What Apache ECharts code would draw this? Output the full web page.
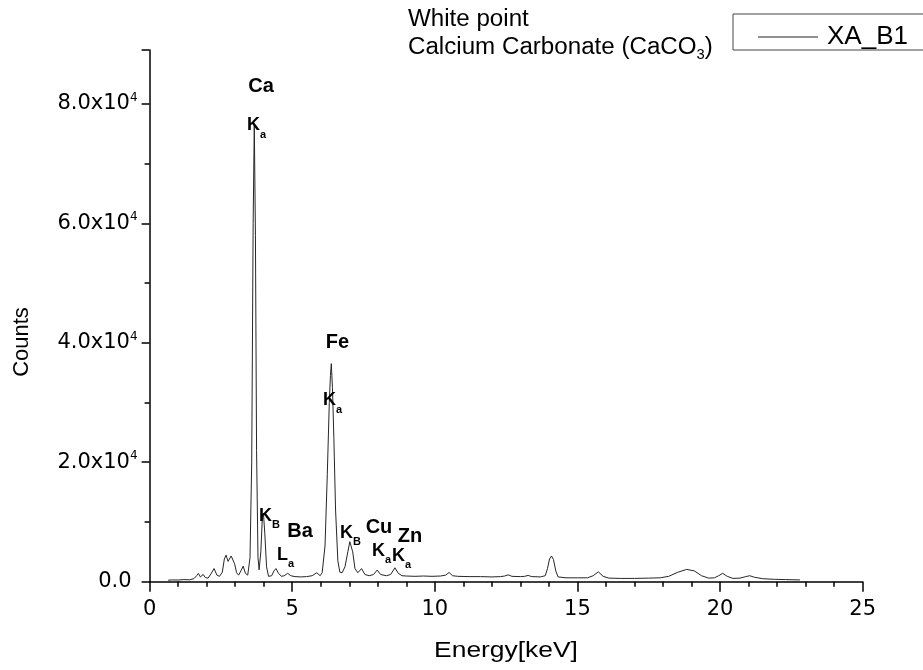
<!DOCTYPE html>
<html>
<head>
<meta charset="utf-8">
<script src="https://cdn.jsdelivr.net/npm/echarts@6/dist/echarts.min.js"></script>
<style>
html, body { margin: 0; padding: 0; background: #fff; }
#chart { width: 923px; height: 670px; }
</style>
</head>
<body>
<div id="chart"></div>
<script>
// XRF spectrum of sample XA_B1 (energy in keV, counts)
const energy = [
  0.65, 0.8, 1.0, 1.2, 1.4, 1.55, 1.65, 1.71, 1.78, 1.88, 1.95, 2.05, 2.15, 2.26, 2.36,
  2.45, 2.55, 2.62, 2.68, 2.75, 2.8, 2.86, 2.91, 2.98, 3.05, 3.12, 3.2, 3.28, 3.36, 3.44,
  3.52, 3.58, 3.63, 3.67, 3.71, 3.75, 3.8, 3.84, 3.9, 3.95, 3.99, 4.04, 4.1, 4.17, 4.28,
  4.36, 4.43, 4.52, 4.62, 4.72, 4.84, 4.95, 5.1, 5.3, 5.5, 5.7, 5.86, 5.98, 6.05, 6.15,
  6.23, 6.3, 6.34, 6.37, 6.41, 6.46, 6.52, 6.6, 6.67, 6.75, 6.85, 6.95, 7.02, 7.06, 7.12,
  7.2, 7.3, 7.43, 7.55, 7.7, 7.85, 7.98, 8.1, 8.3, 8.45, 8.6, 8.72, 8.85, 9.0, 9.3,
  9.6, 9.9, 10.2, 10.38, 10.5, 10.62, 10.8, 11.2, 11.6, 12.0, 12.3, 12.45, 12.57, 12.7, 13.0,
  13.15, 13.27, 13.4, 13.7, 13.87, 13.95, 14.02, 14.09, 14.16, 14.24, 14.32, 14.6, 15.0, 15.35, 15.55,
  15.73, 15.9, 16.1, 16.5, 17.0, 17.5, 17.9, 18.2, 18.5, 18.83, 19.1, 19.35, 19.6, 19.8, 19.95,
  20.09, 20.25, 20.45, 20.7, 20.9, 21.04, 21.2, 21.5, 21.9, 22.3, 22.8
];
const counts = [
  250, 300, 280, 350, 320, 500, 1000, 1400, 800, 1200, 700, 600, 1300, 2200, 1100,
  900, 1600, 3800, 4450, 3400, 3300, 4300, 4600, 3000, 1500, 1100, 1800, 2600, 1400, 1100,
  4000, 20000, 60000, 76500, 58000, 22000, 4000, 2000, 5000, 10500, 11500, 8000, 2500, 900, 1000,
  1800, 2200, 1400, 900, 1000, 1400, 1000, 850, 800, 850, 1000, 1500, 1000, 1500, 6000,
  18000, 30000, 34500, 36500, 32500, 24000, 12000, 3500, 1600, 1500, 2500, 5000, 6700, 6950, 5000,
  2200, 1500, 2200, 1200, 1000, 1200, 1950, 1200, 1000, 1200, 2330, 1400, 1000, 950, 900,
  950, 900, 950, 1100, 1550, 1000, 900, 850, 850, 800, 850, 950, 1150, 900, 850,
  900, 1050, 850, 800, 1000, 2200, 3800, 4300, 3700, 1800, 800, 650, 650, 650, 1000,
  1650, 900, 600, 550, 550, 600, 650, 900, 1550, 2060, 1800, 1000, 600, 650, 1000,
  1400, 900, 550, 600, 850, 1000, 750, 500, 400, 350, 300
];

const seriesName = 'XA_B1';
const xTicks = [0, 5, 10, 15, 20, 25];
const yTicks = [0, 20000, 40000, 60000, 80000];
const yTickMantissa = ['0.0', '2.0', '4.0', '6.0', '8.0'];

// element names and line labels, anchored in (keV, counts)
const elementNames = ['Ca', 'Ba', 'Fe', 'Cu', 'Zn'];
const elementAnchors = [[3.905, 82950], [5.272, 8450], [6.586, 40030], [8.041, 9030], [9.127, 7530]];
const lineNames = ['K', 'K', 'L', 'K', 'K', 'K', 'K'];
const lineSubs = ['a', 'B', 'a', 'a', 'B', 'a', 'a'];
const lineAnchors = [[3.414, 76370], [3.835, 11030], [4.465, 4530], [6.078, 30370], [6.674, 8200], [7.795, 5200], [8.496, 4370]];

const spectrum = energy.map((e, i) => [e, counts[i]]);
const chart = echarts.init(document.getElementById('chart'), null, { renderer: 'canvas' });
const FONT = 'Arial, "Liberation Sans", sans-serif';
const WIDE = '"DejaVu Sans", Arial, sans-serif';

function yLabel(v) {
  const k = yTicks.indexOf(v);
  if (k < 0) return '';
  if (v === 0) return '{z|' + yTickMantissa[k] + '}';
  return '{m|' + yTickMantissa[k] + 'x10}{s|4}';
}

chart.setOption({
  animation: false,
  backgroundColor: '#fff',
  grid: { left: 149.6, right: 60.3, top: 50, bottom: 88.3, containLabel: false },
  xAxis: {
    type: 'value',
    min: xTicks[0],
    max: xTicks[xTicks.length - 1],
    interval: 5,
    axisLine: { onZero: false, lineStyle: { color: '#000', width: 1.5 } },
    axisTick: { length: 10, lineStyle: { color: '#000', width: 1.5 } },
    minorTick: { show: true, splitNumber: 5, length: 5, lineStyle: { color: '#000', width: 1.5 } },
    splitLine: { show: false },
    axisLabel: { margin: 17, color: '#000', fontSize: 21, fontFamily: WIDE }
  },
  yAxis: {
    type: 'value',
    min: 0,
    max: 89000,
    interval: 20000,
    axisLine: { show: true, lineStyle: { color: '#000', width: 1.5 } },
    axisTick: { show: true, length: 8, lineStyle: { color: '#000', width: 1.5 } },
    minorTick: { show: true, splitNumber: 2, length: 5, lineStyle: { color: '#000', width: 1.5 } },
    splitLine: { show: false },
    axisLabel: {
      margin: 12,
      formatter: yLabel,
      rich: {
        m: { fontSize: 21, lineHeight: 24, color: '#000', fontFamily: WIDE },
        z: { fontSize: 21, lineHeight: 24, color: '#000', fontFamily: WIDE, padding: [0, 6, 0, 0] },
        s: { fontSize: 12, lineHeight: 12, verticalAlign: 'top', color: '#000', fontFamily: WIDE }
      }
    }
  },
  legend: {
    data: [seriesName],
    left: 753,
    top: 19,
    icon: 'rect',
    itemWidth: 60,
    itemHeight: 1.2,
    itemStyle: { color: '#222' },
    textStyle: { fontSize: 26, color: '#000', fontFamily: FONT, padding: [0, 0, 0, 4] }
  },
  series: [{
    name: seriesName,
    type: 'line',
    data: spectrum,
    symbol: 'none',
    lineStyle: { color: '#262626', width: 1 },
    itemStyle: { color: '#262626' },
    z: 3
  }]
});

const toPx = p => chart.convertToPixel({ gridIndex: 0 }, p);
const graphics = [];

// legend frame
graphics.push({
  type: 'rect', z: 0,
  shape: { x: 733, y: 14, width: 200, height: 36 },
  style: { fill: '#fff', stroke: '#444', lineWidth: 1 }
});

// caption
graphics.push({
  type: 'text', x: 408, y: 6, scaleX: 1.05, z: 10,
  style: {
    text: '{m|White point}\n{m|Calcium Carbonate (CaCO}{s|3}{m|)}',
    rich: {
      m: { fontSize: 23, lineHeight: 28, fontFamily: FONT, fill: '#000' },
      s: { fontSize: 14, lineHeight: 14, verticalAlign: 'bottom', fontFamily: FONT, fill: '#000' }
    }
  }
});

// axis titles
graphics.push({
  type: 'text', x: 22, y: 342, rotation: Math.PI / 2, z: 10,
  style: { text: 'Counts', fontSize: 22, fontFamily: FONT, fill: '#000', align: 'center', verticalAlign: 'middle' }
});
graphics.push({
  type: 'text', x: 506, y: 651, scaleX: 1.2, z: 10,
  style: { text: 'Energy[keV]', fontSize: 22, fontFamily: FONT, fill: '#000', align: 'center', verticalAlign: 'middle' }
});

elementNames.forEach((name, i) => {
  const p = toPx(elementAnchors[i]);
  graphics.push({
    type: 'text', x: p[0], y: p[1], z: 10,
    style: { text: name, fontSize: 20, fontWeight: 'bold', fontFamily: FONT, fill: '#000', align: 'center', verticalAlign: 'middle' }
  });
});

lineNames.forEach((name, i) => {
  const p = toPx(lineAnchors[i]);
  graphics.push({
    type: 'text', x: p[0], y: p[1], z: 10,
    style: {
      text: '{k|' + name + '}{s|' + lineSubs[i] + '}',
      align: 'left', verticalAlign: 'middle',
      rich: {
        k: { fontSize: 18, lineHeight: 30, fontWeight: 'bold', fontFamily: FONT, fill: '#000' },
        s: { fontSize: 11, lineHeight: 11, verticalAlign: 'bottom', fontWeight: 'bold', fontFamily: FONT, fill: '#000' }
      }
    }
  });
});

chart.setOption({ graphic: graphics });
</script>
</body>
</html>
